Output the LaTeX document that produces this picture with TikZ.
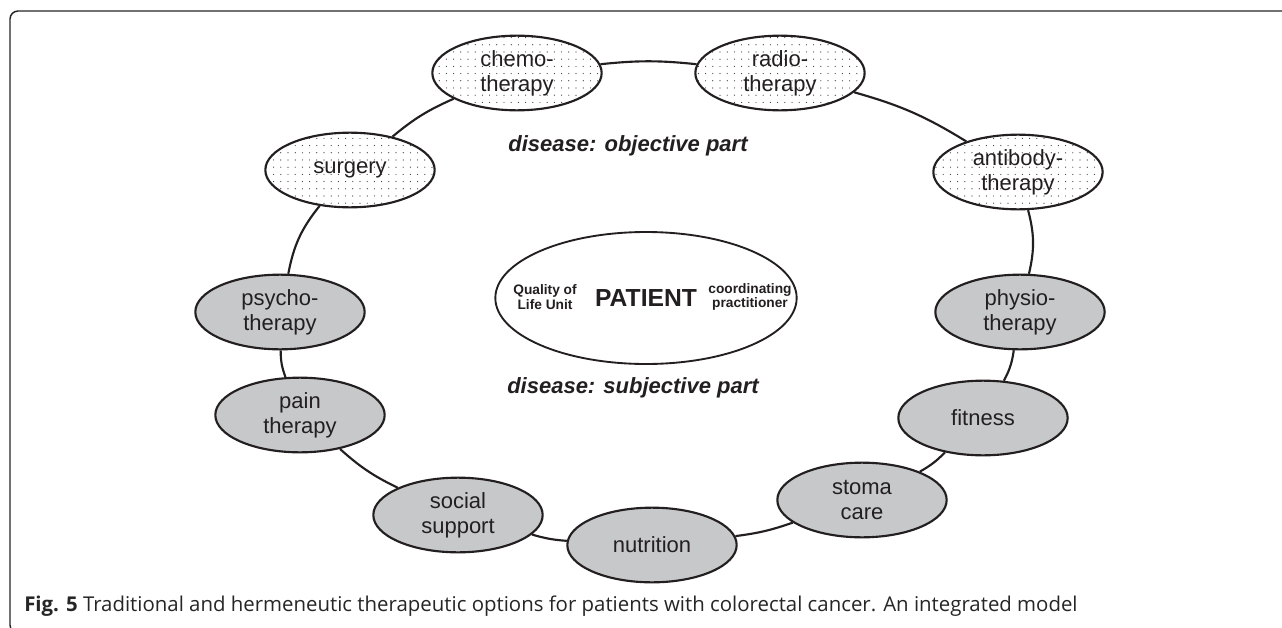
\documentclass[tikz,border=0pt]{standalone}
\usepackage{fontspec}
\setmainfont{Liberation Sans}
\newfontfamily\capfont{Open Sans}
\usetikzlibrary{shapes.geometric,patterns.meta}
\definecolor{ovalgray}{RGB}{199,200,202}
\definecolor{ink}{RGB}{35,31,32}
\tikzdeclarepattern{
  name=sparsedots,
  type=uncolored,
  bottom left={(-0.6pt,-0.6pt)},
  top right={(0.6pt,0.6pt)},
  tile size={(5.4pt,5.4pt)},
  code={\pgfpathcircle{\pgfpointorigin}{0.45pt}\pgfusepath{fill}}
}
\tikzset{
  oval/.style={ellipse, draw=ink, line width=1.6pt, minimum width=127pt, minimum height=56pt,
    inner sep=0pt, align=center, text=ink, font=\fontsize{16.5}{18.5}\selectfont},
  objoval/.style={oval, pattern={sparsedots}, pattern color=black!80},
  subjoval/.style={oval, fill=ovalgray},
  ring/.style={line width=1.6pt, draw=ink},
  parttext/.style={font=\bfseries\itshape\fontsize{16.5}{19}\selectfont, text=ink},
  smallbold/.style={font=\bfseries\fontsize{10.3}{11}\selectfont, align=center, text=ink},
  frame/.style={line width=1.1pt, draw=black!85, rounded corners=6pt}
}
\begin{document}
\begin{tikzpicture}[x=0.75pt,y=-0.75pt]
\fill[white] (0,0) rectangle (1282,628);
\useasboundingbox (0,0) rectangle (1282,628);
\draw[frame] (1300,11) -- (10,11) -- (10,633) -- (40,633);

% objective part
\node[objoval] (chemo) at (517,73) {chemo-\\therapy};
\node[objoval] (radio) at (780,73) {radio-\\therapy};
\node[objoval] (antibody) at (1018,172) {antibody-\\therapy};
\node[objoval] (surgery) at (350,170) {surgery};
% subjective part
\node[subjoval] (physio) at (1020,312) {physio-\\therapy};
\node[subjoval] (fitness) at (983,418) {fitness};
\node[subjoval] (stoma) at (862,500) {stoma\\care};
\node[subjoval] (nutrition) at (652,545) {nutrition};
\node[subjoval] (social) at (458,515) {social\\support};
\node[subjoval] (pain) at (300,415) {pain\\therapy};
\node[subjoval] (psycho) at (280,312) {psycho-\\therapy};

% ring
\draw[ring] (chemo) to[bend left=6] (radio);
\draw[ring] (radio) to[bend left=8] (antibody);
\draw[ring] (antibody) to[bend left=14] (physio);
\draw[ring] (physio) to[bend left=10] (fitness);
\draw[ring] (fitness) to[bend left=8] (stoma);
\draw[ring] (stoma) to[bend left=6] (nutrition);
\draw[ring] (nutrition) to[bend left=6] (social);
\draw[ring] (social) to[bend left=8] (pain);
\draw[ring] (pain) to[bend left=10] (psycho);
\draw[ring] (psycho) to[bend left=14] (surgery);
\draw[ring] (surgery) to[bend left=8] (chemo);

% centre
\node[ellipse, draw=ink, line width=1.4pt, minimum width=226pt, minimum height=99pt, inner sep=0pt,
  font=\bfseries\fontsize{18.5}{20}\selectfont, text=ink] (patient) at (646,298) {PATIENT};
\node[smallbold] (qol) at (545,297) {Quality of\\Life Unit};
\node[smallbold] (coord) at (750,297) {coordinating\\practitioner};

\node[parttext] (objective) at (628,146) {disease: objective part};
\node[parttext] (subjective) at (633,388) {disease: subjective part};

\node[anchor=base west, inner sep=0pt, text=black!85, font=\capfont\fontsize{15.3}{17}\selectfont] (caption) at (24,611)
  {\textbf{Fig. 5} Traditional and hermeneutic therapeutic options for patients with colorectal cancer. An integrated model};
\end{tikzpicture}
\end{document}
